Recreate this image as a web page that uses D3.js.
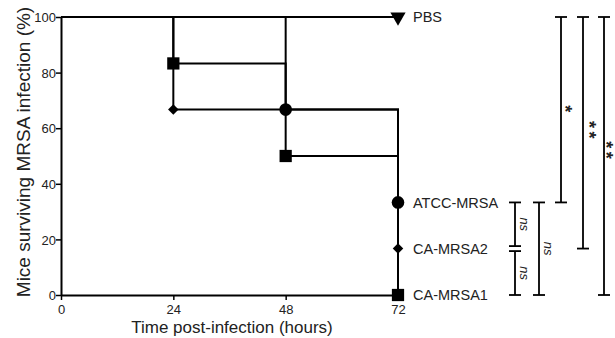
<!DOCTYPE html>
<html>
<head>
<meta charset="utf-8">
<script src="https://cdn.jsdelivr.net/npm/d3@7"></script>
<style>
  body { margin: 0; background: #fff; }
  svg { font-family: "Liberation Sans", Arial, sans-serif; }
</style>
</head>
<body>
<svg id="chart" width="615" height="338"></svg>
<script>
// ---- data ----
var times = [0, 24, 48, 72];
var groups = ["PBS", "ATCC-MRSA", "CA-MRSA2", "CA-MRSA1"];
var survival = {
  "PBS":       [100, 100, 100, 100],
  "ATCC-MRSA": [100, 100, 66.7, 33.3],
  "CA-MRSA2":  [100, 66.7, 66.7, 16.7],
  "CA-MRSA1":  [100, 83.3, 50, 0]
};
var markers = { "PBS": "triangle", "ATCC-MRSA": "circle", "CA-MRSA2": "diamond", "CA-MRSA1": "square" };
var xTicks = [0, 24, 48, 72];
var yTicks = [0, 20, 40, 60, 80, 100];
// pairwise comparisons: [group a, group b, label]
var comparisons = [
  ["ATCC-MRSA", "CA-MRSA2", "ns"],
  ["CA-MRSA2", "CA-MRSA1", "ns"],
  ["ATCC-MRSA", "CA-MRSA1", "ns"],
  ["PBS", "ATCC-MRSA", "*"],
  ["PBS", "CA-MRSA2", "**"],
  ["PBS", "CA-MRSA1", "**"]
];

// ---- scales ----
var svg = d3.select("#chart");
var x = d3.scaleLinear().domain([0, 72]).range([61, 398]);
var y = d3.scaleLinear().domain([0, 100]).range([295, 17]);

// ---- axes ----
var xAxis = svg.append("g")
  .attr("transform", "translate(0," + y(0) + ")")
  .call(d3.axisBottom(x).tickValues(xTicks).tickSize(5).tickSizeOuter(0));
var yAxis = svg.append("g")
  .attr("transform", "translate(" + x(0) + ",0)")
  .call(d3.axisLeft(y).tickValues(yTicks).tickSize(5).tickSizeOuter(0));

[xAxis, yAxis].forEach(function(a) {
  a.select(".domain").attr("stroke", "#000").attr("stroke-width", 2);
  a.selectAll(".tick line").attr("stroke", "#000").attr("stroke-width", 1.5);
  a.selectAll(".tick text").attr("fill", "#222").style("font-size", "13px")
    .style("font-family", "Liberation Sans, Arial, sans-serif");
});
xAxis.selectAll(".tick text").attr("dy", "0.85em");
yAxis.selectAll(".tick text").attr("x", -5).attr("dy", "0.36em");

svg.append("text")
  .attr("x", 232).attr("y", 333)
  .attr("text-anchor", "middle")
  .style("font-size", "17px").attr("fill", "#222")
  .text("Time post-infection (hours)");
svg.append("text")
  .attr("transform", "translate(30," + (y(50) - 4) + ") rotate(-90)")
  .attr("text-anchor", "middle")
  .style("font-size", "19px").attr("fill", "#222")
  .text("Mice surviving MRSA infection (%)");

// ---- survival step lines ----
var line = d3.line()
  .x(function(d) { return x(d[0]); })
  .y(function(d) { return y(d[1]); })
  .curve(d3.curveStepAfter);

groups.forEach(function(g) {
  var pts = times.map(function(t, i) { return [t, survival[g][i]]; });
  svg.append("path")
    .attr("d", line(pts))
    .attr("fill", "none")
    .attr("stroke", "#000")
    .attr("stroke-width", 2);
});

// markers where survival drops and at the last time point
var sym = {
  triangle: d3.symbol().type(d3.symbolTriangle).size(100),
  circle: d3.symbol().type(d3.symbolCircle).size(125),
  diamond: d3.symbol().type(d3.symbolSquare).size(55),
  square: d3.symbol().type(d3.symbolSquare).size(150)
};
var symRot = { triangle: " rotate(180)", circle: "", diamond: " rotate(45)", square: "" };
groups.forEach(function(g) {
  var vals = survival[g];
  times.forEach(function(t, i) {
    var last = i === times.length - 1;
    if (i > 0 && (vals[i] !== vals[i - 1] || last)) {
      svg.append("path")
        .attr("d", sym[markers[g]]())
        .attr("transform", "translate(" + x(t) + "," + y(vals[i]) + ")" + symRot[markers[g]])
        .attr("fill", "#000");
    }
  });
});

// group labels
groups.forEach(function(g) {
  svg.append("text")
    .attr("x", x(72) + 15)
    .attr("y", y(survival[g][times.length - 1]))
    .attr("dy", "0.36em")
    .style("font-size", "14.5px").attr("fill", "#222")
    .text(g);
});

// ---- significance brackets ----
var bx = [515, 515, 539, 561, 583, 604];
var starX = [0, 0, 0, 568, 592, 609];
var starShift = [0, 0, 0, -1, -3, -6];
function endY(g) { return y(survival[g][times.length - 1]); }
comparisons.forEach(function(c, i) {
  var y1 = endY(c[0]), y2 = endY(c[1]);
  // small gap between the two stacked ns brackets
  if (i === 0) y2 -= 2.5;
  if (i === 1) y1 += 2.5;
  var gb = svg.append("g").attr("stroke", "#000").attr("stroke-width", 1.8);
  gb.append("line").attr("x1", bx[i]).attr("x2", bx[i]).attr("y1", y1).attr("y2", y2);
  gb.append("line").attr("x1", bx[i] - 6).attr("x2", bx[i] + 6).attr("y1", y1).attr("y2", y1);
  gb.append("line").attr("x1", bx[i] - 6).attr("x2", bx[i] + 6).attr("y1", y2).attr("y2", y2);
  var my = (y1 + y2) / 2;
  if (c[2] === "ns") {
    svg.append("text")
      .attr("text-anchor", "middle")
      .attr("fill", "#222")
      .attr("transform", "translate(" + (bx[i] + 5) + "," + my + ") rotate(90)")
      .style("font-size", "13px").style("font-style", "italic")
      .text(c[2]);
  } else {
    var n = c[2].length;
    for (var k = 0; k < n; k++) {
      var sy = my + starShift[i] + (k - (n - 1) / 2) * 10.5;
      svg.append("text")
        .attr("text-anchor", "middle")
        .attr("fill", "#222")
        .attr("transform", "translate(" + starX[i] + "," + sy + ") rotate(90)")
        .attr("dy", "0.5em")
        .style("font-size", "18px").style("font-weight", "bold")
        .text("*");
    }
  }
});
</script>
</body>
</html>
